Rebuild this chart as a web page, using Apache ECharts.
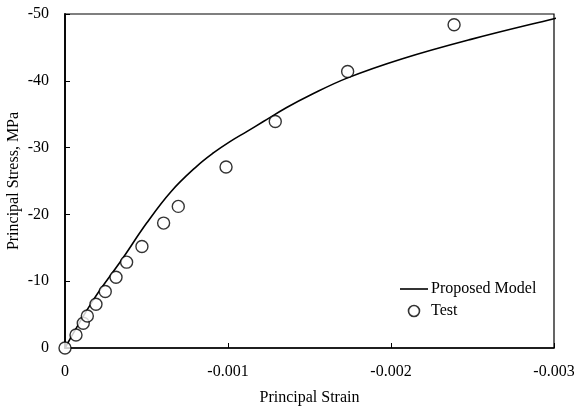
<!DOCTYPE html>
<html>
<head>
<meta charset="utf-8">
<script src="https://cdn.jsdelivr.net/npm/echarts@6/dist/echarts.min.js"></script>
<style>
  html, body { margin: 0; padding: 0; background: #fff; }
  #chart { width: 574px; height: 409px; }
</style>
</head>
<body>
<div id="chart"></div>
<script>
// Model curve: principal strain vs principal stress (MPa)
const modelStrain = [0, -0.000174, -0.000348, -0.000501, -0.00065, -0.000808, -0.00091, -0.001012, -0.001115, -0.001217, -0.00136, -0.0015, -0.00173, -0.00207, -0.00249, -0.003, -0.00304];
const modelStress = [0, -7.2, -13.2, -18.7, -23.4, -27.2, -29.2, -30.9, -32.4, -33.9, -36.0, -37.8, -40.4, -43.3, -46.2, -49.3, -49.5];

// Test measurements
const testStrain = [0, -0.0000675, -0.000112, -0.000137, -0.00019, -0.000247, -0.000313, -0.000378, -0.000472, -0.000605, -0.000695, -0.000988, -0.00129, -0.001734, -0.002387];
const testStress = [0, -1.95, -3.7, -4.8, -6.55, -8.45, -10.6, -12.85, -15.2, -18.7, -21.2, -27.1, -33.9, -41.4, -48.4];

// Axis ticks
const xTicks = [0, -0.001, -0.002, -0.003];
const yTicks = [0, -10, -20, -30, -40, -50];

const font = '"Liberation Serif", "DejaVu Serif", serif';
const pair = (xs, ys) => xs.map((x, i) => [x, ys[i]]);

const chart = echarts.init(document.getElementById('chart'), null, { renderer: 'canvas' });
chart.setOption({
  animation: false,
  backgroundColor: '#fff',
  textStyle: { fontFamily: font, color: '#000' },
  grid: {
    left: 65, right: 20, top: 14, bottom: 61,
    containLabel: false, outerBoundsMode: 'none',
    show: true, borderColor: '#000', borderWidth: 1.2, backgroundColor: 'transparent'
  },
  legend: {
    orient: 'vertical',
    left: 395, top: 276,
    itemWidth: 28, itemHeight: 11, itemGap: 6,
    textStyle: { fontFamily: font, fontSize: 16, color: '#000', padding: [0, 0, 0, -2] },
    data: [
      { name: 'Proposed Model', icon: 'path://M0,0 L28,0 L28,1.6 L0,1.6 Z', itemStyle: { color: '#000' } },
      { name: 'Test', icon: 'circle', itemStyle: { color: '#fff', borderColor: '#000', borderWidth: 1.6 } }
    ]
  },
  xAxis: {
    type: 'value',
    min: -0.003, max: 0, interval: 0.001, inverse: true,
    name: 'Principal Strain', nameLocation: 'middle', nameGap: 42,
    nameMoveOverlap: false,
    nameTextStyle: { fontFamily: font, fontSize: 16, color: '#000' },
    axisLine: { onZero: false, lineStyle: { color: '#000', width: 1.5 } },
    axisTick: { inside: true, length: 5, lineStyle: { color: '#000' } },
    axisLabel: {
      margin: 16, fontFamily: font, fontSize: 16, color: '#000',
      formatter: v => {
        const t = xTicks.find(k => Math.abs(k - v) < 1e-9);
        return t === 0 ? '0' : t.toFixed(3);
      }
    },
    splitLine: { show: false }
  },
  yAxis: {
    type: 'value',
    min: -50, max: 0, interval: 10, inverse: true,
    name: 'Principal Stress, MPa', nameLocation: 'middle', nameGap: 43, nameRotate: 90,
    nameMoveOverlap: false,
    nameTextStyle: { fontFamily: font, fontSize: 16, color: '#000' },
    axisLine: { onZero: false, lineStyle: { color: '#000', width: 1.8 } },
    axisTick: { inside: true, length: 5, lineStyle: { color: '#000' } },
    axisLabel: {
      margin: 16, fontFamily: font, fontSize: 16, color: '#000',
      formatter: v => {
        const t = yTicks.find(k => Math.abs(k - v) < 1e-9);
        return String(t);
      }
    },
    splitLine: { show: false }
  },
  series: [
    {
      name: 'Proposed Model',
      type: 'line',
      data: pair(modelStrain, modelStress),
      smooth: 0.4,
      symbol: 'none',
      clip: false,
      lineStyle: { color: '#000', width: 1.6 },
      z: 2
    },
    {
      name: 'Test',
      type: 'scatter',
      data: pair(testStrain, testStress),
      symbol: 'circle',
      symbolSize: 12,
      clip: false,
      itemStyle: { color: '#fff', borderColor: '#000', borderWidth: 1.4 },
      z: 3
    }
  ]
});
</script>
</body>
</html>
